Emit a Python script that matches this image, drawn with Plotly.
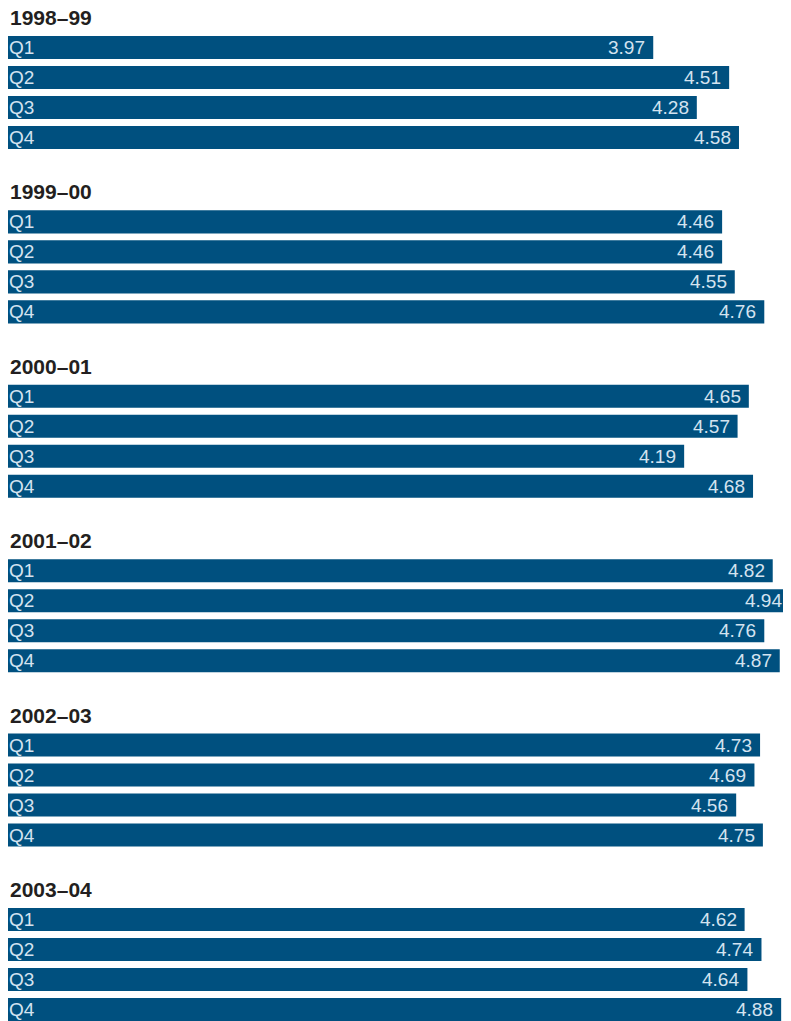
import plotly.graph_objects as go

years = ["1998–99", "1999–00", "2000–01", "2001–02", "2002–03", "2003–04"]
quarters = ["Q1", "Q2", "Q3", "Q4"]
v1998 = [3.97, 4.51, 4.28, 4.58]
v1999 = [4.46, 4.46, 4.55, 4.76]
v2000 = [4.65, 4.57, 4.19, 4.68]
v2001 = [4.82, 4.94, 4.76, 4.87]
v2002 = [4.73, 4.69, 4.56, 4.75]
v2003 = [4.62, 4.74, 4.64, 4.88]
values = [v1998, v1999, v2000, v2001, v2002, v2003]

# style / layout constants
BASE = -0.62
XMAX = 4.95
PITCH = 5.813
BAR_COLOR = "#00507f"
LABEL_COLOR = "#d4e3f0"
TITLE_COLOR = "#231f20"
FONT = "Liberation Sans Narrow, Arial Narrow, Liberation Sans, sans-serif"

ys, xs = [], []
annotations = []
for g, (yr, vals) in enumerate(zip(years, values)):
    annotations.append(dict(x=BASE, y=-(g * PITCH - 1), xref="x", yref="y", text=f"<b>{yr}</b>",
                            showarrow=False, xanchor="left", yanchor="middle", xshift=1,
                            borderpad=0,
                            font=dict(family=FONT, size=21, color=TITLE_COLOR)))
    for q, (qn, v) in enumerate(zip(quarters, vals)):
        y = -(g * PITCH + q)
        ys.append(y)
        xs.append(v - BASE)
        annotations.append(dict(x=BASE, y=y, xref="x", yref="y", text=qn, showarrow=False,
                                xanchor="left", yanchor="middle", xshift=0, borderpad=0,
                                font=dict(family=FONT, size=19, color=LABEL_COLOR)))
        annotations.append(dict(x=v, y=y, xref="x", yref="y", text=f"{v:.2f}", showarrow=False,
                                xanchor="right", yanchor="middle", xshift=-7, borderpad=0,
                                font=dict(family=FONT, size=19, color=LABEL_COLOR)))

fig = go.Figure(go.Bar(x=xs, y=ys, base=BASE, orientation="h", width=0.767,
                       marker=dict(color=BAR_COLOR, line=dict(width=0)), hoverinfo="skip"))
fig.update_layout(
    width=783, height=1013,
    margin=dict(l=0, r=0, t=0, b=0),
    paper_bgcolor="white", plot_bgcolor="white",
    showlegend=False,
    xaxis=dict(range=[BASE, XMAX], visible=False, fixedrange=True),
    yaxis=dict(range=[-32.45, 1.316], visible=False, fixedrange=True),
    annotations=annotations,
)
fig.write_html("out.html")
